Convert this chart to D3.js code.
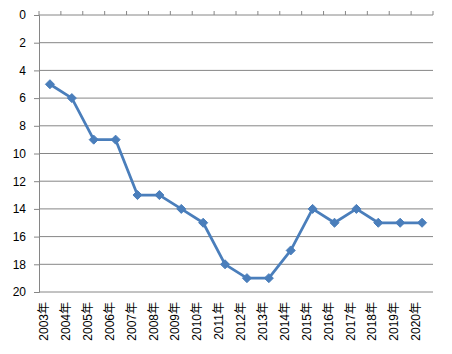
<!DOCTYPE html>
<html lang="zh">
<head>
<meta charset="UTF-8">
<script src="https://d3js.org/d3.v7.min.js"></script>
<style>
  body { margin: 0; background: #fff; }
  text { font-family: "Liberation Sans", Arial, "Noto Sans CJK SC", sans-serif; }
</style>
</head>
<body>
<svg id="chart" width="452" height="354"></svg>
<script>
const years = ["2003年","2004年","2005年","2006年","2007年","2008年","2009年","2010年","2011年",
               "2012年","2013年","2014年","2015年","2016年","2017年","2018年","2019年","2020年"];
const values = [5, 6, 9, 9, 13, 13, 14, 15, 18, 19, 19, 17, 14, 15, 14, 15, 15, 15];
const yTicks = [0, 2, 4, 6, 8, 10, 12, 14, 16, 18, 20];

const margin = { left: 39, top: 15, right: 19, bottom: 62 };
const width = 452 - margin.left - margin.right;
const height = 354 - margin.top - margin.bottom;

const svg = d3.select("#chart").append("g")
    .attr("transform", `translate(${margin.left},${margin.top})`);

const x = d3.scaleBand().domain(years).range([0, width]);
const y = d3.scaleLinear().domain([0, 20]).range([0, height]);

// horizontal gridlines
svg.selectAll(".grid").data(yTicks.slice(1)).enter().append("line")
    .attr("x1", 0).attr("x2", width)
    .attr("y1", d => y(d)).attr("y2", d => y(d))
    .attr("stroke", "#868686").attr("stroke-width", 1);

// left axis
const yAxis = svg.append("g")
    .call(d3.axisLeft(y).tickValues(yTicks).tickSize(5).tickPadding(8));
yAxis.selectAll("line").attr("stroke", "#868686");
yAxis.select(".domain").attr("stroke", "#868686");
yAxis.selectAll("text").attr("font-size", "12px").attr("fill", "#000")
    .style("font-family", "'Liberation Sans', Arial, sans-serif");

// category axis at top
svg.append("line").attr("x1", 0).attr("x2", width).attr("y1", 0).attr("y2", 0)
    .attr("stroke", "#868686");
const bounds = years.map(d => x(d)).concat([width]);
svg.selectAll(".xtick").data(bounds).enter().append("line")
    .attr("x1", d => d).attr("x2", d => d).attr("y1", 0).attr("y2", -4)
    .attr("stroke", "#868686");

// rotated category labels
svg.selectAll(".xlabel").data(years).enter().append("text")
    .attr("transform", d => `translate(${x(d) + x.bandwidth() / 2 - 6},${height + 10}) rotate(-90)`)
    .attr("dy", "0.35em")
    .attr("text-anchor", "end")
    .attr("font-size", "12px")
    .attr("fill", "#000")
    .text(d => d);

const line = d3.line()
    .x((d, i) => x(years[i]) + x.bandwidth() / 2)
    .y(d => y(d));

svg.append("path").datum(values)
    .attr("fill", "none")
    .attr("stroke", "#4a7ebb")
    .attr("stroke-width", 2.75)
    .attr("stroke-linejoin", "round")
    .attr("d", line);

svg.selectAll(".pt").data(values).enter().append("path")
    .attr("d", d3.symbol().type(d3.symbolDiamond2).size(52))
    .attr("transform", (d, i) => `translate(${x(years[i]) + x.bandwidth() / 2},${y(d)})`)
    .attr("fill", "#4a7ebb")
    .attr("stroke", "#4a7ebb")
    .attr("stroke-width", 1);
</script>
</body>
</html>
